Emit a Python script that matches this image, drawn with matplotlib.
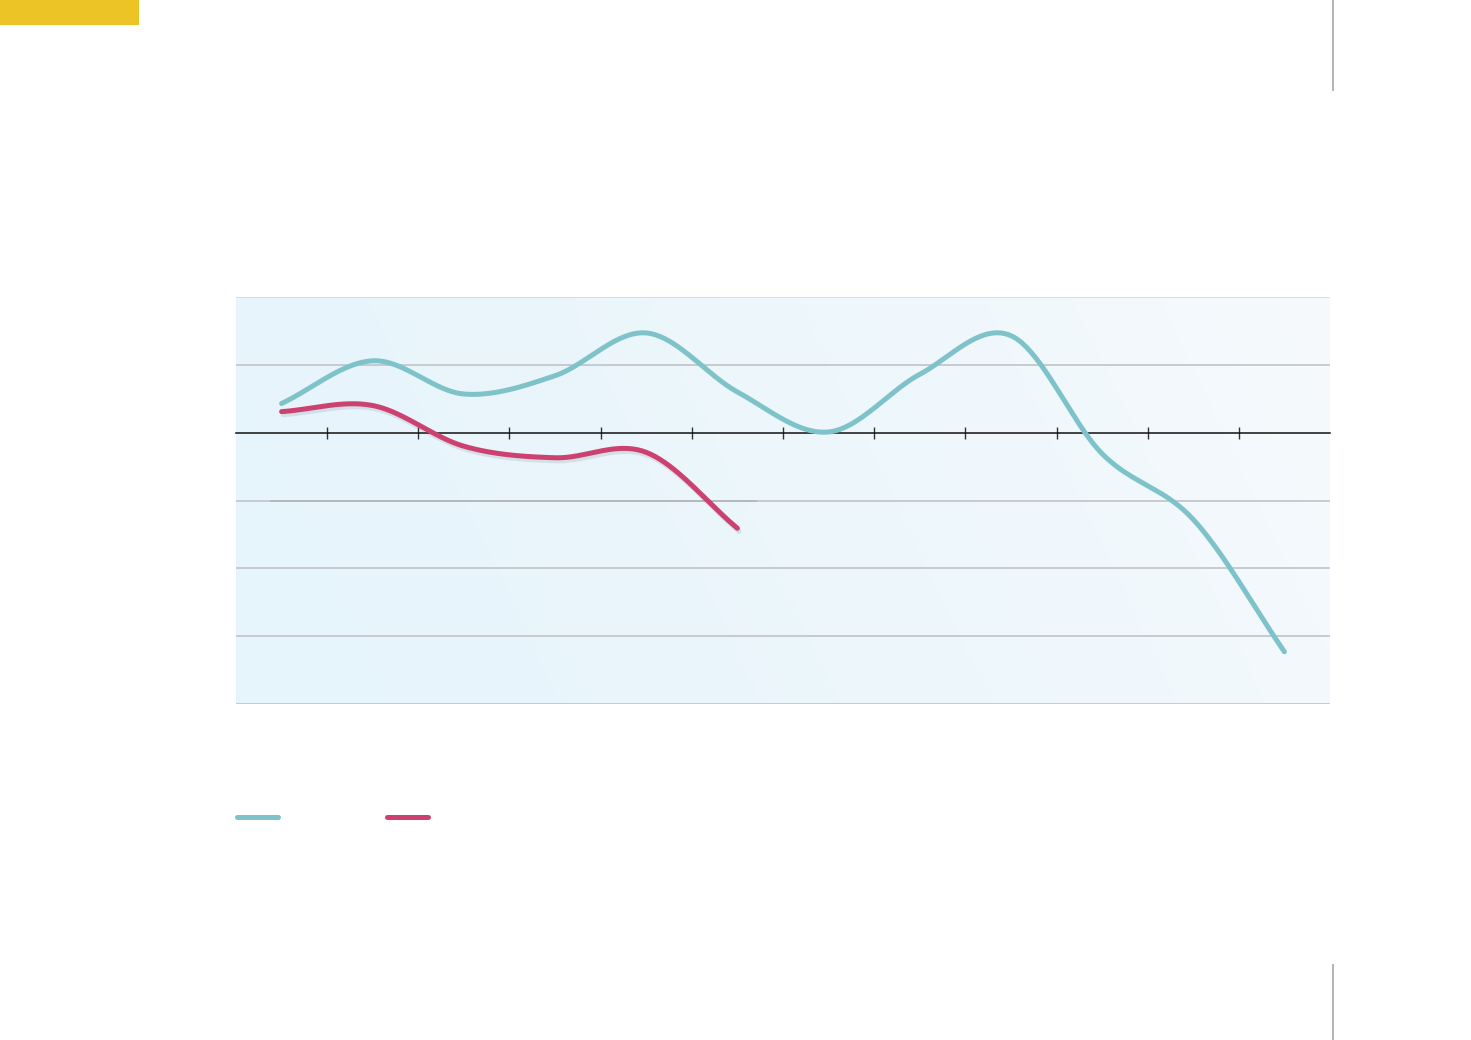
import numpy as np
import matplotlib
matplotlib.use("Agg")
import matplotlib.pyplot as plt
import matplotlib.patheffects as pe
from matplotlib.lines import Line2D
from matplotlib.patches import Rectangle

# ------------- data -------------
categories = list(range(12))
series_a = [0.43, 1.06, 0.57, 0.84, 1.47, 0.60, 0.01, 0.86, 1.43, -0.31, -1.28, -3.23]
series_b = [0.31, 0.40, -0.20, -0.37, -0.29, -1.41]
y_grid = [-4, -3, -2, -1, 1, 2]

cyan = "#7ec3c9"
magenta = "#cc4170"
W, H, dpi = 1471, 1040, 100


def smooth(xs, ys, n=40):
    """Catmull-Rom style smoothing through the points (like a 'smoothed line' chart)."""
    xs = np.asarray(xs, float)
    ys = np.asarray(ys, float)
    m = np.empty_like(ys)
    m[1:-1] = (ys[2:] - ys[:-2]) / 2
    m[0] = ys[1] - ys[0]
    m[-1] = ys[-1] - ys[-2]
    out_x, out_y = [], []
    t = np.linspace(0, 1, n, endpoint=False)
    for i in range(len(ys) - 1):
        h00 = 2*t**3 - 3*t**2 + 1
        h10 = t**3 - 2*t**2 + t
        h01 = -2*t**3 + 3*t**2
        h11 = t**3 - t**2
        out_y.append(h00*ys[i] + h10*m[i] + h01*ys[i+1] + h11*m[i+1])
        out_x.append(xs[i] + t*(xs[i+1] - xs[i]))
    out_x.append([xs[-1]])
    out_y.append([ys[-1]])
    return np.concatenate(out_x), np.concatenate(out_y)


fig = plt.figure(figsize=(W/dpi, H/dpi), dpi=dpi)
fig.patch.set_facecolor("white")

# yellow tab top-left
fig.patches.append(Rectangle((0, 1 - 25/H), 139/W, 25/H, transform=fig.transFigure,
                             facecolor="#ecc425", edgecolor="none"))
# thin vertical page rules on the right
for y0, y1 in [(0, 90), (965, 1040)]:
    fig.lines.append(Line2D([1333/W, 1333/W], [1 - y0/H, 1 - y1/H], transform=fig.transFigure,
                            color="#a9adb3", lw=1.3))

ax = fig.add_axes([236/W, 1 - 704/H, (1330-236)/W, (704-297)/H])
ax.set_xlim(-0.5, 11.5)
ax.set_ylim(-4, 2)

# soft gradient background, bluer on the left
gx, gy = np.meshgrid(np.linspace(0, 1, 300), np.linspace(0, 1, 100))
g = np.clip(0.85*gx + 0.15*gy, 0, 1) ** 1.3
c0 = np.array([230, 244, 251]) / 255
c1 = np.array([246, 250, 253]) / 255
img = c0[None, None, :] * (1 - g[..., None]) + c1[None, None, :] * g[..., None]
ax.imshow(img, extent=(-0.5, 11.5, -4, 2), origin="lower", aspect="auto", zorder=0)

for yv in y_grid:
    col = "#d3d5d8" if yv == 2 else "#bcbfc3"
    ax.axhline(yv, color=col, lw=1.1, zorder=1)
ax.hlines(-1, -0.13, 5.21, color="#b0b3b7", lw=1.1, zorder=1)

for s in ["top", "left", "right"]:
    ax.spines[s].set_visible(False)
ax.spines["bottom"].set_position(("data", 0))
ax.spines["bottom"].set_color("#111111")
ax.spines["bottom"].set_linewidth(1.1)
ax.spines["bottom"].set_zorder(2)
ax.set_xticks(np.arange(0.5, 11, 1))
ax.tick_params(axis="x", direction="inout", length=8.6, width=1.0, color="#333333",
               labelbottom=False)
ax.set_yticks([])

xa, ya = smooth(categories, series_a)
ax.plot(xa, ya, color=cyan, lw=3.6, solid_capstyle="round", zorder=3)

xb, yb = smooth(categories[:len(series_b)], series_b)
ax.plot(xb, yb, color=magenta, lw=3.6, solid_capstyle="round", zorder=4,
        path_effects=[pe.SimpleLineShadow(offset=(1.2, -2.2), shadow_color="#56626c", alpha=0.14),
                      pe.Normal()])

handles = [Line2D([], [], color=cyan, lw=3.6, solid_capstyle="round"),
           Line2D([], [], color=magenta, lw=3.6, solid_capstyle="round")]
fig.legend(handles, ["", ""], loc="center left", bbox_to_anchor=(237/W, 1 - 818/H),
           ncol=2, frameon=False, handlelength=2.95, handletextpad=0.0,
           columnspacing=7.85, borderpad=0, borderaxespad=0, fontsize=10)

fig.savefig("out.png", dpi=dpi)
